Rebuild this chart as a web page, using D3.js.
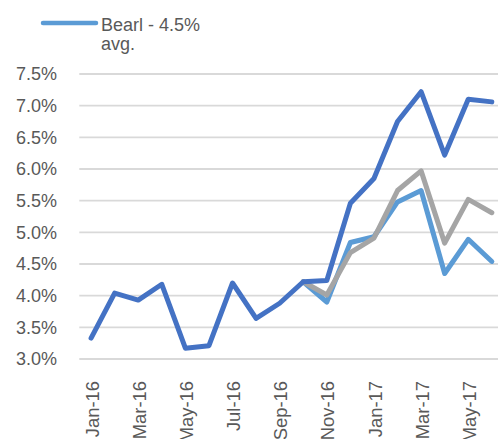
<!DOCTYPE html>
<html lang="en">
<meta charset="utf-8">
<style type="text/css">
  body { margin: 0; background: #fff; }
  svg { display: block; }
  .grid line { stroke: #d9d9d9; stroke-width: 1.8px; }
  .lbl { font-family: "Liberation Sans", Arial, sans-serif; fill: #595959; font-size: 18px; }
  .series { fill: none; stroke-linejoin: round; stroke-linecap: round; }
</style>
<body>
<script src="https://d3js.org/d3.v7.min.js"></script>
<script>
var months = ["Jan-16","Feb-16","Mar-16","Apr-16","May-16","Jun-16","Jul-16","Aug-16","Sep-16",
              "Oct-16","Nov-16","Dec-16","Jan-17","Feb-17","Mar-17","Apr-17","May-17","Jun-17"];
var tickLabels = ["Jan-16","Mar-16","May-16","Jul-16","Sep-16","Nov-16","Jan-17","Mar-17","May-17"];
var yTicks = [3.0, 3.5, 4.0, 4.5, 5.0, 5.5, 6.0, 6.5, 7.0, 7.5];

// dark blue (history + upper scenario)
var bull = [3.33, 4.04, 3.93, 4.18, 3.17, 3.21, 4.20, 3.64, 3.88,
            4.22, 4.24, 5.46, 5.85, 6.75, 7.22, 6.22, 7.10, 7.06];
// gray
var base = [null, null, null, null, null, null, null, null, null,
            4.22, 4.01, 4.68, 4.91, 5.66, 5.97, 4.83, 5.52, 5.31];
// light blue
var bear = [null, null, null, null, null, null, null, null, null,
            4.22, 3.90, 4.84, 4.93, 5.48, 5.66, 4.35, 4.89, 4.54];

var legendText = ["Bearl - 4.5%", "avg."];

var width = 498, height = 439;
var svg = d3.select("body").append("svg")
    .attr("width", width)
    .attr("height", height);

var x = d3.scalePoint()
    .domain(months)
    .range([79.3, 503.6])
    .padding(0.5);

var y = d3.scaleLinear()
    .domain([3.0, 7.5])
    .range([359, 74]);

// gridlines
svg.append("g").attr("class", "grid")
  .selectAll("line")
  .data(yTicks)
  .enter().append("line")
    .attr("x1", 79.3)
    .attr("x2", width)
    .attr("y1", function (d) { return y(d); })
    .attr("y2", function (d) { return y(d); });

// y labels
svg.append("g")
  .selectAll("text")
  .data(yTicks)
  .enter().append("text")
    .attr("class", "lbl")
    .attr("x", 57)
    .attr("y", function (d) { return y(d); })
    .attr("dy", "0.36em")
    .attr("text-anchor", "end")
    .text(function (d) { return d.toFixed(1) + "%"; });

// x labels
svg.append("g")
  .selectAll("text")
  .data(tickLabels)
  .enter().append("text")
    .attr("class", "lbl")
    .style("font-size", "18.4px")
    .attr("transform", function (d) { return "translate(" + (x(d) + 1) + ",381) rotate(-90)"; })
    .attr("dy", "0.36em")
    .attr("text-anchor", "end")
    .text(function (d) { return d; });

var line = d3.line()
    .defined(function (d) { return d != null; })
    .x(function (d, i) { return x(months[i]); })
    .y(function (d) { return y(d); });

var series = [
  { values: bear, color: "#5b9bd5" },
  { values: base, color: "#a5a5a5" },
  { values: bull, color: "#4472c4" }
];

svg.append("g")
  .selectAll("path")
  .data(series)
  .enter().append("path")
    .attr("class", "series")
    .attr("stroke", function (d) { return d.color; })
    .attr("stroke-width", 5)
    .attr("d", function (d) { return line(d.values); });

// legend
var legend = svg.append("g");
legend.append("line")
    .attr("x1", 43).attr("x2", 96)
    .attr("y1", 23).attr("y2", 23)
    .attr("stroke", "#5b9bd5")
    .attr("stroke-width", 4.5)
    .attr("stroke-linecap", "round");
legend.selectAll("text")
  .data(legendText)
  .enter().append("text")
    .attr("class", "lbl")
    .attr("x", 101)
    .attr("y", function (d, i) { return 30.5 + i * 19.5; })
    .text(function (d) { return d; });
</script>
</body>
</html>
